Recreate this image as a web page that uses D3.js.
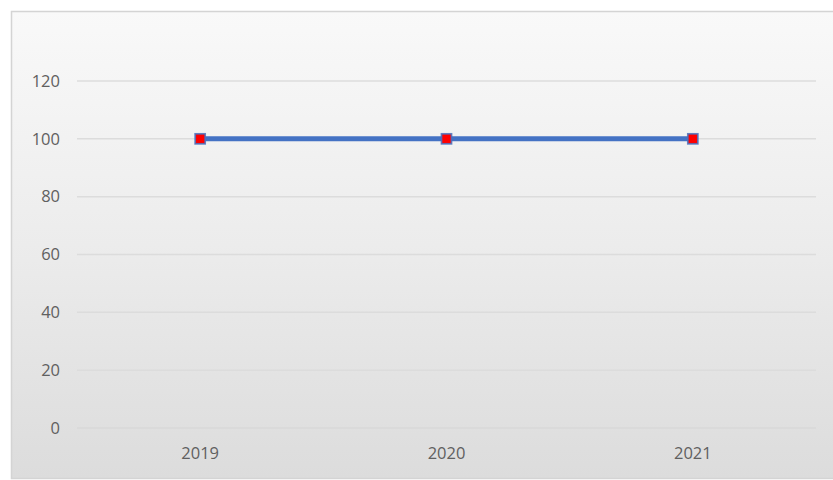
<!DOCTYPE html>
<html>
<head>
<meta charset="utf-8">
<script src="https://cdn.jsdelivr.net/npm/d3@7"></script>
<style>
  html, body { margin: 0; padding: 0; background: #ffffff; }
  svg { display: block; }
</style>
</head>
<body>
<svg id="chart" width="833" height="480"></svg>
<script>
// Yearly values plotted as a single line series
const categories = ["2019", "2020", "2021"];
const values = [100, 100, 100];
const yTicks = [0, 20, 40, 60, 80, 100, 120];

const svg = d3.select("#chart");

// Chart frame with a soft vertical gradient fill
const defs = svg.append("defs");
const grad = defs.append("linearGradient")
  .attr("id", "bg").attr("x1", 0).attr("y1", 0).attr("x2", 0).attr("y2", 1);
grad.append("stop").attr("offset", "0%").attr("stop-color", "#f9f9f9");
grad.append("stop").attr("offset", "50%").attr("stop-color", "#ececec");
grad.append("stop").attr("offset", "100%").attr("stop-color", "#dcdcdc");

svg.append("rect")
  .attr("x", 11.5).attr("y", 11.5)
  .attr("width", 840).attr("height", 467)
  .attr("fill", "url(#bg)")
  .attr("stroke", "#d4d4d4").attr("stroke-width", 1.5);

const plot = { left: 77, right: 816, top: 81, bottom: 428 };

const x = d3.scaleBand()
  .domain(categories)
  .range([plot.left, plot.right]);

const y = d3.scaleLinear()
  .domain([0, 120])
  .range([plot.bottom, plot.top]);

// Horizontal gridlines
svg.append("g")
  .selectAll("line")
  .data(yTicks)
  .join("line")
  .attr("x1", plot.left).attr("x2", plot.right)
  .attr("y1", d => y(d)).attr("y2", d => y(d))
  .attr("stroke", d => d === 0 ? "#d9d9d9" : "#dcdcdc")
  .attr("stroke-width", 1.5);

const font = "'Open Sans', 'Noto Sans', sans-serif";

// Y axis labels
const yAxis = svg.append("g")
  .attr("transform", `translate(${plot.left - 17},0)`)
  .call(d3.axisLeft(y).tickValues(yTicks).tickSize(0).tickPadding(0));
yAxis.select(".domain").remove();
yAxis.selectAll("text")
  .attr("font-family", font)
  .attr("font-size", 16.5)
  .attr("fill", "#606060");

// X axis labels
const xAxis = svg.append("g")
  .attr("transform", `translate(0,${plot.bottom})`)
  .call(d3.axisBottom(x).tickSize(0).tickPadding(19));
xAxis.select(".domain").remove();
xAxis.selectAll("text")
  .attr("font-family", font)
  .attr("font-size", 16.5)
  .attr("fill", "#606060");

// Series line
const line = d3.line()
  .x((d, i) => x(categories[i]) + x.bandwidth() / 2)
  .y(d => y(d));

svg.append("path")
  .datum(values)
  .attr("d", line)
  .attr("fill", "none")
  .attr("stroke", "#4472c4")
  .attr("stroke-width", 5);

// Square markers
const ms = 10;
svg.append("g")
  .selectAll("rect")
  .data(values)
  .join("rect")
  .attr("x", (d, i) => x(categories[i]) + x.bandwidth() / 2 - ms / 2)
  .attr("y", d => y(d) - ms / 2)
  .attr("width", ms).attr("height", ms)
  .attr("fill", "#ff0000")
  .attr("stroke", "#4a72c0")
  .attr("stroke-opacity", 0.85)
  .attr("stroke-width", 1.75);
</script>
</body>
</html>
